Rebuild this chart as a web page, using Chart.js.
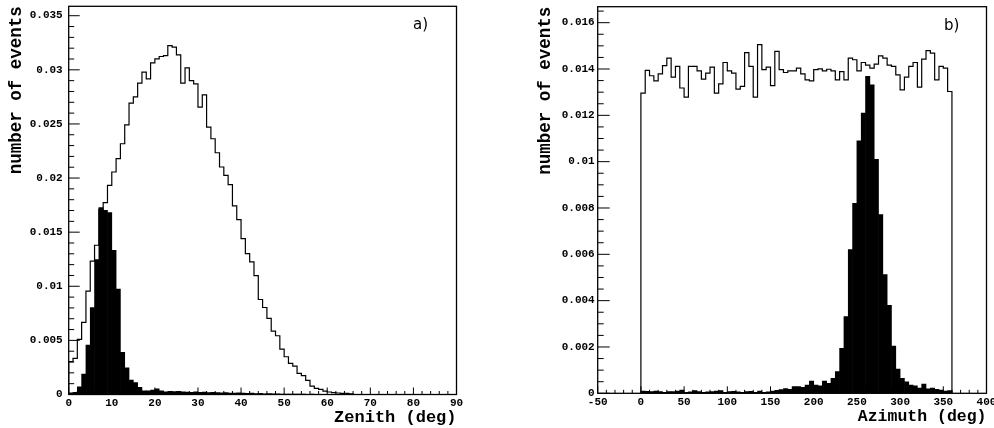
<!DOCTYPE html>
<html>
<head>
<meta charset="utf-8">
<script src="https://cdn.jsdelivr.net/npm/chart.js@4/dist/chart.umd.min.js"></script>
<style>
  html, body { margin: 0; padding: 0; background: #fff; }
  body { width: 994px; height: 428px; position: relative; overflow: hidden; }
  canvas { position: absolute; top: 0; }
  #zenith { left: 0; }
  #azimuth { left: 530px; }
</style>
</head>
<body>
<canvas id="zenith" width="497" height="428"></canvas>
<canvas id="azimuth" width="464" height="428"></canvas>
<script>
// a) zenith, 1 deg bins from 0 deg
const zenithBin = 1;
const zenithAll = [
  0.00303, 0.00334, 0.00509, 0.00666, 0.00955, 0.01232, 0.01379, 0.01711, 0.01773, 0.01933,
  0.02056, 0.02179, 0.02317, 0.02492, 0.02692, 0.02751, 0.02877, 0.02978, 0.02917, 0.03064,
  0.03101, 0.03123, 0.03132, 0.03224, 0.03209, 0.03138, 0.02877, 0.03018, 0.02901, 0.02870,
  0.02655, 0.02769, 0.02471, 0.02363, 0.02234, 0.02102, 0.02025, 0.01939, 0.01742, 0.01616,
  0.01441, 0.01302, 0.01225, 0.01099, 0.00878, 0.00804, 0.00703, 0.00586, 0.00543, 0.00420,
  0.00349, 0.00288, 0.00263, 0.00195, 0.00174, 0.00131, 0.00078, 0.00057, 0.00048, 0.00032,
  0.00023, 0.00017, 0.00014, 0.00010, 0.00010, 0.00005
];
const zenithSelected = [
  0.00015, 0.00020, 0.00072, 0.00189, 0.00457, 0.00804, 0.01247, 0.01727, 0.01702, 0.01680,
  0.01333, 0.00973, 0.00389, 0.00247, 0.00134, 0.00109, 0.00066, 0.00035, 0.00035, 0.00040,
  0.00052, 0.00035, 0.00025, 0.00030, 0.00028, 0.00030, 0.00025, 0.00022, 0.00020, 0.00024,
  0.00020, 0.00022, 0.00018, 0.00020, 0.00017, 0.00015, 0.00018, 0.00014, 0.00012, 0.00016,
  0.00012, 0.00010, 0.00012, 0.00008, 0.00010, 0.00007, 0.00008, 0.00006, 0.00007, 0.00005,
  0.00005, 0.00004, 0.00004, 0.00003, 0.00004, 0.00002, 0.00003, 0.00002
];
const zenithXTicks = [0, 10, 20, 30, 40, 50, 60, 70, 80, 90];
const zenithYTicks = [0, 0.005, 0.01, 0.015, 0.02, 0.025, 0.03, 0.035];

// b) azimuth, 5 deg bins from 0 to 360 deg
const azimuthBin = 5;
const azimuthAll = [
  0.01296, 0.01394, 0.01371, 0.01349, 0.01379, 0.01415, 0.01447, 0.01365, 0.01411, 0.01318, 0.01279, 0.01411,
  0.01411, 0.01392, 0.01356, 0.01382, 0.01408, 0.01296, 0.01336, 0.01428, 0.01392, 0.01382, 0.01313, 0.01325,
  0.01471, 0.01411, 0.01279, 0.01505, 0.01397, 0.01408, 0.01328, 0.01476, 0.01397, 0.01385, 0.01392, 0.01392,
  0.01404, 0.01379, 0.01353, 0.01349, 0.01397, 0.01401, 0.01392, 0.01399, 0.01392, 0.01353, 0.01389, 0.01353,
  0.01447, 0.01440, 0.01392, 0.01428, 0.01417, 0.01404, 0.01421, 0.01457, 0.01447, 0.01417, 0.01411, 0.01375,
  0.01310, 0.01365, 0.01411, 0.01428, 0.01322, 0.01443, 0.01479, 0.01469, 0.01353, 0.01411, 0.01404, 0.01303
];
const azimuthSelected = [
  0.00010, 0.00008, 0.00007, 0.00010, 0.00007, 0.00004, 0.00007, 0.00007, 0.00010, 0.00014, 0.00004, 0.00006,
  0.00012, 0.00007, 0.00004, 0.00006, 0.00007, 0.00010, 0.00012, 0.00004, 0.00007, 0.00009, 0.00006, 0.00004,
  0.00007, 0.00009, 0.00004, 0.00010, 0.00004, 0.00006, 0.00010, 0.00013, 0.00016, 0.00020, 0.00017, 0.00029,
  0.00029, 0.00026, 0.00036, 0.00053, 0.00036, 0.00032, 0.00053, 0.00043, 0.00065, 0.00094, 0.00194, 0.00331,
  0.00620, 0.00820, 0.01090, 0.01210, 0.01368, 0.01332, 0.01010, 0.00772, 0.00513, 0.00380, 0.00204, 0.00105,
  0.00065, 0.00050, 0.00036, 0.00032, 0.00022, 0.00040, 0.00019, 0.00022, 0.00017, 0.00014, 0.00010, 0.00012
];
const azimuthXTicks = [-50, 0, 50, 100, 150, 200, 250, 300, 350, 400];
const azimuthYTicks = [0, 0.002, 0.004, 0.006, 0.008, 0.01, 0.012, 0.014, 0.016];

Chart.defaults.font.family = '"Liberation Mono", "DejaVu Sans Mono", monospace';
Chart.defaults.font.weight = 'bold';
Chart.defaults.color = '#000';

// open histogram drawn as a stepped outline through the bin edges
function outline(values, width) {
  const pts = [{ x: 0, y: 0 }];
  values.forEach((v, i) => pts.push({ x: i * width, y: v }));
  pts.push({ x: values.length * width, y: 0 });
  return pts;
}
function bins(values, width) {
  return values.map((v, i) => ({ x: (i + 0.5) * width, y: v }));
}
function fmt(v) { return String(+v.toFixed(4)); }

// ROOT-like frame with inward ticks and panel letter
const frameTicks = {
  id: 'frameTicks',
  afterDatasetsDraw(chart, args, o) {
    const { ctx, chartArea: a, scales: { x, y } } = chart;
    ctx.save();
    ctx.strokeStyle = '#000';
    ctx.lineWidth = 1.3;
    ctx.strokeRect(a.left, a.top, a.right - a.left, a.bottom - a.top);
    ctx.lineWidth = 1;
    ctx.beginPath();
    const nx = Math.round((x.max - x.min) / o.xMinor);
    for (let i = 0; i <= nx; i++) {
      const v = x.min + i * o.xMinor;
      const major = Math.abs(v / o.xMajor - Math.round(v / o.xMajor)) < 1e-6;
      const px = x.getPixelForValue(v);
      ctx.moveTo(px, a.bottom);
      ctx.lineTo(px, a.bottom - (major ? o.xLen : o.xLen / 2));
    }
    const ny = Math.floor((y.max - y.min) / o.yMinor + 1e-6);
    for (let i = 0; i <= ny; i++) {
      const v = y.min + i * o.yMinor;
      const major = Math.abs(v / o.yMajor - Math.round(v / o.yMajor)) < 1e-6;
      const py = y.getPixelForValue(v);
      ctx.moveTo(a.left, py);
      ctx.lineTo(a.left + (major ? o.yLen : o.yLen / 2), py);
    }
    ctx.stroke();
    ctx.font = '15px "DejaVu Sans"';
    ctx.fillStyle = '#000';
    ctx.textAlign = 'left';
    ctx.textBaseline = 'alphabetic';
    ctx.fillText(o.label, a.right - o.labelDx, a.top + o.labelDy);
    ctx.restore();
  }
};

function makeChart(id, cfg) {
  new Chart(document.getElementById(id), {
    type: 'bar',
    data: {
      datasets: [
        {
          type: 'bar',
          data: bins(cfg.selected, cfg.bin),
          backgroundColor: '#000',
          borderWidth: 0,
          barPercentage: 1,
          categoryPercentage: 1,
          order: 0
        },
        {
          type: 'line',
          data: outline(cfg.all, cfg.bin),
          borderColor: '#000',
          borderWidth: 1.2,
          pointRadius: 0,
          stepped: 'before',
          fill: false,
          order: 1
        }
      ]
    },
    options: {
      responsive: false,
      animation: false,
      events: [],
      layout: { padding: cfg.padding },
      plugins: {
        legend: { display: false },
        tooltip: { enabled: false },
        frameTicks: cfg.ticks
      },
      scales: {
        x: {
          type: 'linear',
          offset: false,
          min: cfg.xMin,
          max: cfg.xMax,
          grid: { display: false, drawTicks: false },
          border: { display: false },
          afterBuildTicks: s => { s.ticks = cfg.xTicks.map(v => ({ value: v })); },
          afterFit: s => { s.height = cfg.xHeight; s.paddingLeft = 0; s.paddingRight = 0; },
          ticks: { padding: 2, maxRotation: 0, autoSkip: false, font: { size: 11 }, callback: v => fmt(v) },
          title: {
            display: true, text: cfg.xTitle, align: 'end',
            font: { size: cfg.xTitleSize, lineHeight: 1 }, padding: { top: 0, bottom: cfg.xTitlePad }
          }
        },
        y: {
          min: 0,
          max: cfg.yMax,
          grid: { display: false, drawTicks: false },
          border: { display: false },
          afterBuildTicks: s => { s.ticks = cfg.yTicks.map(v => ({ value: v })); },
          afterFit: s => { s.width = cfg.yWidth; s.paddingTop = 0; s.paddingBottom = 0; },
          ticks: { padding: cfg.yTickPad, autoSkip: false, font: { size: 11 }, callback: v => fmt(v) },
          title: {
            display: true, text: 'number of events', align: 'end',
            font: { size: 17.5, lineHeight: 1 }, padding: { top: cfg.yTitlePad, bottom: 0 }
          }
        }
      }
    },
    plugins: [frameTicks]
  });
}

makeChart('zenith', {
  all: zenithAll, selected: zenithSelected, bin: zenithBin,
  xMin: 0, xMax: 90, yMax: 0.03587,
  xTicks: zenithXTicks, yTicks: zenithYTicks,
  padding: { left: 0, top: 6.3, right: 40.5, bottom: 0 },
  yWidth: 68.7, xHeight: 33.5, yTickPad: 6,
  xTitle: 'Zenith (deg)', xTitleSize: 17, xTitlePad: 1.5, yTitlePad: 7.8,
  ticks: { xMinor: 2, xMajor: 10, xLen: 7, yMinor: 0.001, yMajor: 0.005, yLen: 11, label: 'a)', labelDx: 43.5, labelDy: 23 }
});

makeChart('azimuth', {
  all: azimuthAll, selected: azimuthSelected, bin: azimuthBin,
  xMin: -50, xMax: 400, yMax: 0.01669,
  xTicks: azimuthXTicks, yTicks: azimuthYTicks,
  padding: { left: 0, top: 6.7, right: 7.5, bottom: 0 },
  yWidth: 67.7, xHeight: 34.7, yTickPad: 3,
  xTitle: 'Azimuth (deg)', xTitleSize: 16.5, xTitlePad: 3, yTitlePad: 6.4,
  ticks: { xMinor: 10, xMajor: 50, xLen: 7, yMinor: 0.0005, yMajor: 0.002, yLen: 12, label: 'b)', labelDx: 42.5, labelDy: 23.5 }
});
</script>
</body>
</html>
